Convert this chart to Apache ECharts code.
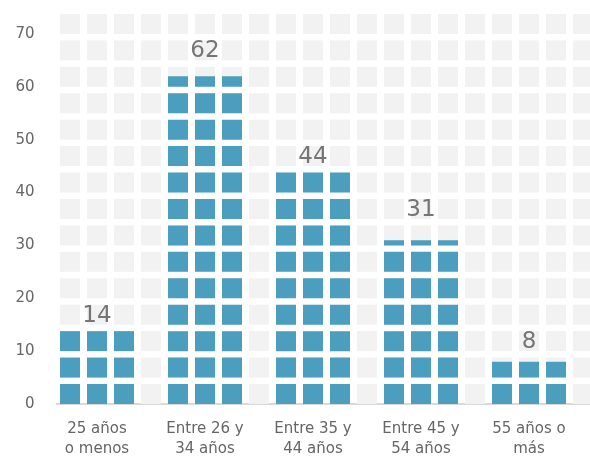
<!DOCTYPE html>
<html>
<head>
<meta charset="utf-8">
<script src="https://cdn.jsdelivr.net/npm/echarts@6/dist/echarts.min.js"></script>
<style>
html,body{margin:0;padding:0;background:#fff;}
#c{width:590px;height:459px;}
</style>
</head>
<body>
<div id="c"></div>
<script>
// ---- data ----
const categories = ['25 años\no menos', 'Entre 26 y\n34 años', 'Entre 35 y\n44 años', 'Entre 45 y\n54 años', '55 años o\nmás'];
const values = [14, 62, 44, 31, 8];
const yTicks = [0, 10, 20, 30, 40, 50, 60, 70];

// ---- layout helpers (4 slots per category: 3 filled columns + 1 spacer) ----
const SLOTS = 4, FILLED = 3, UNIT = 5, ROWS = 15, AXIS_MAX = 75;
const xData = [], bgData = [], fgData = [], labelData = [];
categories.forEach((c, i) => {
  for (let s = 0; s < SLOTS; s++) {
    xData.push(s === 1 ? c : '');
    bgData.push(AXIS_MAX);
    fgData.push(s < FILLED ? values[i] : '-');
  }
  // label anchored at the top of the block row containing the value
  labelData.push({ value: [i * SLOTS + 1, Math.ceil(values[i] / UNIT) * UNIT], raw: values[i] });
});

const font = 'DejaVu Sans';
const blockBound = 73.8;
const chart = echarts.init(document.getElementById('c'), null, { renderer: 'canvas' });
chart.setOption({
  animation: false,
  grid: { left: 56.5, right: -6.5, top: 7.6, bottom: 55, containLabel: false, outerBoundsMode: 'none' },
  xAxis: {
    type: 'category',
    data: xData,
    axisTick: { show: false },
    axisLine: { lineStyle: { color: '#d9d9d9', width: 2 } },
    axisLabel: { interval: 0, color: '#666', fontFamily: font, fontSize: 15, lineHeight: 20, margin: 15 }
  },
  yAxis: {
    type: 'value',
    min: 0, max: AXIS_MAX, interval: 10,
    splitLine: { show: false },
    axisLine: { show: false },
    axisTick: { show: false },
    axisLabel: {
      color: '#666', fontFamily: font, fontSize: 15, margin: 22, showMaxLabel: false,
      formatter: v => (yTicks.indexOf(v) >= 0 ? String(v) : '')
    }
  },
  series: [
    {
      type: 'pictorialBar',
      data: bgData,
      symbol: 'rect',
      symbolRepeat: ROWS,
      symbolBoundingData: blockBound,
      symbolSize: [20, 20],
      barWidth: 20,
      barGap: '-100%',
      itemStyle: { color: '#f2f2f2' },
      silent: true,
      z: 1
    },
    {
      type: 'pictorialBar',
      data: fgData,
      symbol: 'rect',
      symbolRepeat: ROWS,
      symbolBoundingData: blockBound,
      symbolClip: true,
      symbolSize: [20, 20],
      barWidth: 20,
      barGap: '-100%',
      itemStyle: { color: '#4b9ebd' },
      z: 2
    },
    {
      type: 'scatter',
      data: labelData,
      symbolSize: 1,
      itemStyle: { color: 'rgba(0,0,0,0)' },
      z: 3,
      label: {
        show: true,
        position: 'inside',
        offset: [0, -9],
        color: '#555',
        fontFamily: font,
        fontSize: 23,
        formatter: p => String(p.data.raw)
      }
    }
  ]
});
</script>
</body>
</html>
